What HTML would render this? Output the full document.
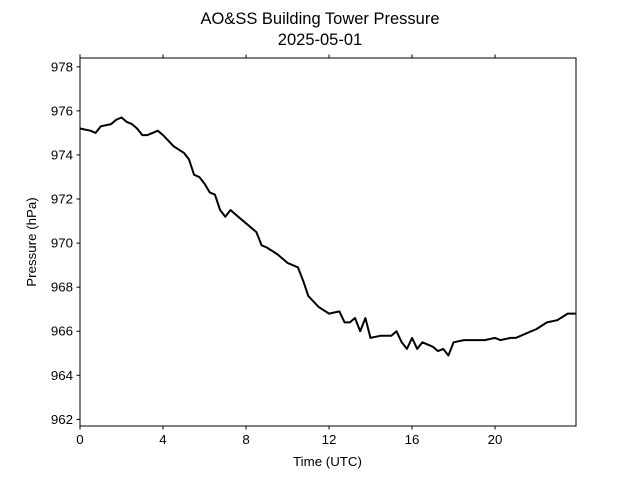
<!DOCTYPE html>
<html><head><meta charset="utf-8"><style>
body{margin:0;background:#fff;}
svg text{font-family:"Liberation Sans","DejaVu Sans",sans-serif;fill:#000;}
</style></head><body>
<svg id="chart" width="640" height="480" viewBox="0 0 640 480">
<text x="320" y="24" font-size="16.5" text-anchor="middle">AO&amp;SS Building Tower Pressure</text>
<text x="320" y="45" font-size="16.5" text-anchor="middle">2025-05-01</text>
<text x="327.5" y="466" font-size="13.3" text-anchor="middle">Time (UTC)</text>
<text x="0" y="0" font-size="13.3" text-anchor="middle" transform="translate(36,242) rotate(-90)">Pressure (hPa)</text>
<g id="ticks"></g>
<path id="line" fill="none" stroke="#000" stroke-width="2" stroke-linejoin="round"></path>
<rect x="80" y="58" width="496" height="368" fill="none" stroke="#000" stroke-width="1"></rect>
</svg>
<script>
const hours=[0,0.5,0.75,1,1.5,1.75,2,2.25,2.5,2.75,3,3.25,3.5,3.75,4,4.5,5,5.25,5.5,5.75,6,6.25,6.5,6.75,7,7.25,7.5,8,8.5,8.75,9,9.5,10,10.5,10.75,11,11.5,12,12.5,12.75,13,13.25,13.5,13.75,14,14.5,15,15.25,15.5,15.75,16,16.25,16.5,17,17.25,17.5,17.75,18,18.5,19,19.5,20,20.25,20.75,21,21.5,22,22.5,23,23.5,23.9];
const pressure=[975.2,975.1,975.0,975.3,975.4,975.6,975.7,975.5,975.4,975.2,974.9,974.9,975.0,975.1,974.9,974.4,974.1,973.8,973.1,973.0,972.7,972.3,972.2,971.5,971.2,971.5,971.3,970.9,970.5,969.9,969.8,969.5,969.1,968.9,968.3,967.6,967.1,966.8,966.9,966.4,966.4,966.6,966.0,966.6,965.7,965.8,965.8,966.0,965.5,965.2,965.7,965.2,965.5,965.3,965.1,965.2,964.9,965.5,965.6,965.6,965.6,965.7,965.6,965.7,965.7,965.9,966.1,966.4,966.5,966.8,966.8];
const xTicks=[0,4,8,12,16,20];
const yTicks=[962,964,966,968,970,972,974,976,978];
const X0=80,X1=576,Y0=426,Y1=58,xMin=0,xMax=23.9,yMin=961.7,yMax=978.4;
const xs=v=>X0+(v-xMin)/(xMax-xMin)*(X1-X0);
const ys=v=>Y0-(v-yMin)/(yMax-yMin)*(Y0-Y1);
const NS="http://www.w3.org/2000/svg";
const g=document.getElementById('ticks');
xTicks.forEach(t=>{
  const x=xs(t);
  [[Y0,Y0+3.5],[Y1,Y1-3.5]].forEach(([a,b])=>{
    const l=document.createElementNS(NS,'line');
    l.setAttribute('x1',x);l.setAttribute('x2',x);l.setAttribute('y1',a);l.setAttribute('y2',b);l.setAttribute('stroke','#000');
    
    
    g.appendChild(l);
  });
  const tx=document.createElementNS(NS,'text');
  tx.setAttribute('x',x);tx.setAttribute('y',Y0+18);tx.setAttribute('font-size','13.3');tx.setAttribute('text-anchor','middle');
  tx.textContent=t;
  
  
  g.appendChild(tx);
});
yTicks.forEach(t=>{
  const y=ys(t);
  const l=document.createElementNS(NS,'line');
  l.setAttribute('x1',X0-3.5);l.setAttribute('x2',X0);l.setAttribute('y1',y);l.setAttribute('y2',y);l.setAttribute('stroke','#000');
  
  
  g.appendChild(l);
  const tx=document.createElementNS(NS,'text');
  tx.setAttribute('x',X0-7);tx.setAttribute('y',y+4.5);tx.setAttribute('font-size','13.3');tx.setAttribute('text-anchor','end');
  tx.textContent=t;
  
  
  g.appendChild(tx);
});
document.getElementById('line').setAttribute('d',hours.map((h,i)=>(i?'L':'M')+xs(h).toFixed(1)+' '+ys(pressure[i]).toFixed(1)).join(' '));
</script>
</body></html>
